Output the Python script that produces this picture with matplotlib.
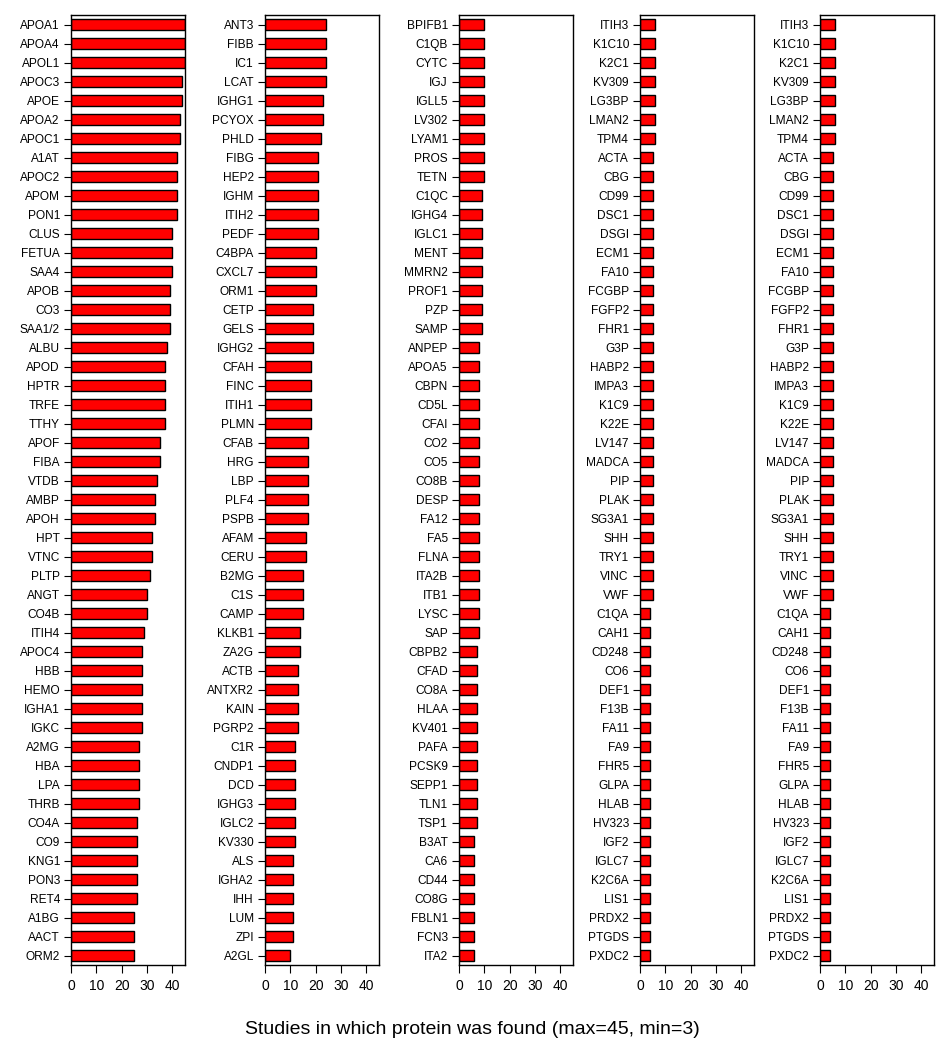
import matplotlib
matplotlib.use("Agg")
import matplotlib.pyplot as plt
import numpy as np

plt.rcParams['font.family'] = ['Liberation Sans', 'DejaVu Sans']

# panel 1
names1 = ["APOA1", "APOA4", "APOL1", "APOC3", "APOE", "APOA2", "APOC1", "A1AT", "APOC2", "APOM",
          "PON1", "CLUS", "FETUA", "SAA4", "APOB", "CO3", "SAA1/2", "ALBU", "APOD", "HPTR",
          "TRFE", "TTHY", "APOF", "FIBA", "VTDB", "AMBP", "APOH", "HPT", "VTNC", "PLTP",
          "ANGT", "CO4B", "ITIH4", "APOC4", "HBB", "HEMO", "IGHA1", "IGKC", "A2MG", "HBA",
          "LPA", "THRB", "CO4A", "CO9", "KNG1", "PON3", "RET4", "A1BG", "AACT", "ORM2"]
counts1 = [45, 45, 45, 44, 44, 43, 43, 42, 42, 42,
           42, 40, 40, 40, 39, 39, 39, 38, 37, 37,
           37, 37, 35, 35, 34, 33, 33, 32, 32, 31,
           30, 30, 29, 28, 28, 28, 28, 28, 27, 27,
           27, 27, 26, 26, 26, 26, 26, 25, 25, 25]

# panel 2
names2 = ["ANT3", "FIBB", "IC1", "LCAT", "IGHG1", "PCYOX", "PHLD", "FIBG", "HEP2", "IGHM",
          "ITIH2", "PEDF", "C4BPA", "CXCL7", "ORM1", "CETP", "GELS", "IGHG2", "CFAH", "FINC",
          "ITIH1", "PLMN", "CFAB", "HRG", "LBP", "PLF4", "PSPB", "AFAM", "CERU", "B2MG",
          "C1S", "CAMP", "KLKB1", "ZA2G", "ACTB", "ANTXR2", "KAIN", "PGRP2", "C1R", "CNDP1",
          "DCD", "IGHG3", "IGLC2", "KV330", "ALS", "IGHA2", "IHH", "LUM", "ZPI", "A2GL"]
counts2 = [24, 24, 24, 24, 23, 23, 22, 21, 21, 21,
           21, 21, 20, 20, 20, 19, 19, 19, 18, 18,
           18, 18, 17, 17, 17, 17, 17, 16, 16, 15,
           15, 15, 14, 14, 13, 13, 13, 13, 12, 12,
           12, 12, 12, 12, 11, 11, 11, 11, 11, 10]

# panel 3
names3 = ["BPIFB1", "C1QB", "CYTC", "IGJ", "IGLL5", "LV302", "LYAM1", "PROS", "TETN", "C1QC",
          "IGHG4", "IGLC1", "MENT", "MMRN2", "PROF1", "PZP", "SAMP", "ANPEP", "APOA5", "CBPN",
          "CD5L", "CFAI", "CO2", "CO5", "CO8B", "DESP", "FA12", "FA5", "FLNA", "ITA2B",
          "ITB1", "LYSC", "SAP", "CBPB2", "CFAD", "CO8A", "HLAA", "KV401", "PAFA", "PCSK9",
          "SEPP1", "TLN1", "TSP1", "B3AT", "CA6", "CD44", "CO8G", "FBLN1", "FCN3", "ITA2"]
counts3 = [10, 10, 10, 10, 10, 10, 10, 10, 10, 9,
           9, 9, 9, 9, 9, 9, 9, 8, 8, 8,
           8, 8, 8, 8, 8, 8, 8, 8, 8, 8,
           8, 8, 8, 7, 7, 7, 7, 7, 7, 7,
           7, 7, 7, 6, 6, 6, 6, 6, 6, 6]

# panel 4 (panel 5 repeats it)
names4 = ["ITIH3", "K1C10", "K2C1", "KV309", "LG3BP", "LMAN2", "TPM4", "ACTA", "CBG", "CD99",
          "DSC1", "DSGI", "ECM1", "FA10", "FCGBP", "FGFP2", "FHR1", "G3P", "HABP2", "IMPA3",
          "K1C9", "K22E", "LV147", "MADCA", "PIP", "PLAK", "SG3A1", "SHH", "TRY1", "VINC",
          "VWF", "C1QA", "CAH1", "CD248", "CO6", "DEF1", "F13B", "FA11", "FA9", "FHR5",
          "GLPA", "HLAB", "HV323", "IGF2", "IGLC7", "K2C6A", "LIS1", "PRDX2", "PTGDS", "PXDC2"]
counts4 = [6, 6, 6, 6, 6, 6, 6, 5, 5, 5,
           5, 5, 5, 5, 5, 5, 5, 5, 5, 5,
           5, 5, 5, 5, 5, 5, 5, 5, 5, 5,
           5, 4, 4, 4, 4, 4, 4, 4, 4, 4,
           4, 4, 4, 4, 4, 4, 4, 4, 4, 4]

panels = [(names1, counts1), (names2, counts2), (names3, counts3),
          (names4, counts4), (names4, counts4)]
xticks = [0, 10, 20, 30, 40]

W, H = 948, 1050
lefts = [71, 265, 459, 640, 820]
box_w = 114
top, bottom = 15, 965

fig = plt.figure(figsize=(W / 100, H / 100), dpi=100)

for left, (names, counts) in zip(lefts, panels):
    ax = fig.add_axes([left / W, (H - bottom) / H, box_w / W, (bottom - top) / H])
    y = np.arange(len(names))
    ax.barh(y, counts, height=0.6, color='#ff0000', edgecolor='black', linewidth=1.0)
    ax.set_xlim(0, 45)
    ax.set_ylim(len(names) - 0.5, -0.5)
    ax.set_yticks(y)
    ax.set_yticklabels(names, fontsize=8.6)
    ax.set_xticks(xticks)
    ax.set_xticklabels([str(t) for t in xticks], fontsize=10)
    ax.tick_params(axis='y', length=5, width=0.8, pad=3)
    ax.tick_params(axis='x', length=6, width=0.8, pad=4)
    for s in ax.spines.values():
        s.set_linewidth(1.0)

fig.text(472 / W, 1 - 1030 / H, "Studies in which protein was found (max=45, min=3)",
         ha='center', va='center', fontsize=14)

fig.savefig("out.png", dpi=100)
